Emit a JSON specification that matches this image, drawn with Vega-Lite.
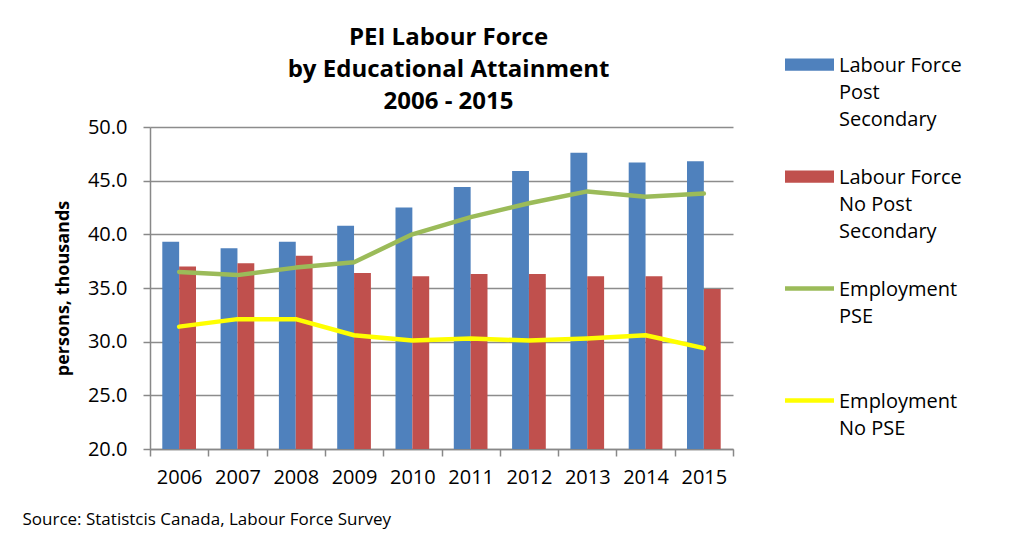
{
  "$schema": "https://vega.github.io/schema/vega-lite/v6.json",
  "width": 583,
  "height": 322,
  "autosize": {"type": "none"},
  "padding": {"left": 150, "top": 127, "right": 276, "bottom": 85},
  "background": "white",
  "config": {
    "font": "Open Sans",
    "view": {"stroke": null}
  },
  "title": {
    "text": ["PEI Labour Force", "by Educational Attainment", "2006 - 2015"],
    "anchor": "middle",
    "frame": "group",
    "font": "Open Sans",
    "fontSize": 24,
    "fontWeight": "bold",
    "color": "black",
    "lineHeight": 32,
    "offset": -74,
    "dx": 7
  },
  "data": {
    "values": [
      {"year": "2006", "series": "Labour Force Post Secondary", "value": 39.3},
      {"year": "2007", "series": "Labour Force Post Secondary", "value": 38.7},
      {"year": "2008", "series": "Labour Force Post Secondary", "value": 39.3},
      {"year": "2009", "series": "Labour Force Post Secondary", "value": 40.8},
      {"year": "2010", "series": "Labour Force Post Secondary", "value": 42.5},
      {"year": "2011", "series": "Labour Force Post Secondary", "value": 44.4},
      {"year": "2012", "series": "Labour Force Post Secondary", "value": 45.9},
      {"year": "2013", "series": "Labour Force Post Secondary", "value": 47.6},
      {"year": "2014", "series": "Labour Force Post Secondary", "value": 46.7},
      {"year": "2015", "series": "Labour Force Post Secondary", "value": 46.8},
      {"year": "2006", "series": "Labour Force No Post Secondary", "value": 37.0},
      {"year": "2007", "series": "Labour Force No Post Secondary", "value": 37.3},
      {"year": "2008", "series": "Labour Force No Post Secondary", "value": 38.0},
      {"year": "2009", "series": "Labour Force No Post Secondary", "value": 36.4},
      {"year": "2010", "series": "Labour Force No Post Secondary", "value": 36.1},
      {"year": "2011", "series": "Labour Force No Post Secondary", "value": 36.3},
      {"year": "2012", "series": "Labour Force No Post Secondary", "value": 36.3},
      {"year": "2013", "series": "Labour Force No Post Secondary", "value": 36.1},
      {"year": "2014", "series": "Labour Force No Post Secondary", "value": 36.1},
      {"year": "2015", "series": "Labour Force No Post Secondary", "value": 34.9},
      {"year": "2006", "series": "Employment PSE", "value": 36.5},
      {"year": "2007", "series": "Employment PSE", "value": 36.2},
      {"year": "2008", "series": "Employment PSE", "value": 36.9},
      {"year": "2009", "series": "Employment PSE", "value": 37.4},
      {"year": "2010", "series": "Employment PSE", "value": 40.0},
      {"year": "2011", "series": "Employment PSE", "value": 41.6},
      {"year": "2012", "series": "Employment PSE", "value": 42.9},
      {"year": "2013", "series": "Employment PSE", "value": 44.0},
      {"year": "2014", "series": "Employment PSE", "value": 43.5},
      {"year": "2015", "series": "Employment PSE", "value": 43.8},
      {"year": "2006", "series": "Employment No PSE", "value": 31.4},
      {"year": "2007", "series": "Employment No PSE", "value": 32.1},
      {"year": "2008", "series": "Employment No PSE", "value": 32.1},
      {"year": "2009", "series": "Employment No PSE", "value": 30.6},
      {"year": "2010", "series": "Employment No PSE", "value": 30.1},
      {"year": "2011", "series": "Employment No PSE", "value": 30.3},
      {"year": "2012", "series": "Employment No PSE", "value": 30.1},
      {"year": "2013", "series": "Employment No PSE", "value": 30.3},
      {"year": "2014", "series": "Employment No PSE", "value": 30.6},
      {"year": "2015", "series": "Employment No PSE", "value": 29.4}
    ]
  },
  "encoding": {
    "x": {
      "field": "year",
      "type": "ordinal",
      "scale": {"paddingInner": 0, "paddingOuter": 0},
      "axis": {
        "labelAngle": 0,
        "tickBand": "extent",
        "tickSize": 7,
        "tickColor": "#888888",
        "tickWidth": 1.5,
        "domainColor": "#888888",
        "domainWidth": 1.5,
        "labelFont": "Open Sans",
        "labelFontSize": 20,
        "labelColor": "black",
        "labelPadding": 11,
        "title": "Source: Statistcis Canada, Labour Force Survey",
        "titleFont": "Open Sans",
        "titleFontSize": 17,
        "titleFontWeight": "normal",
        "titleColor": "black",
        "titleAnchor": "start",
        "titleAlign": "left",
        "titleBaseline": "middle",
        "titleX": -128,
        "titleY": 70
      }
    },
    "y": {
      "field": "value",
      "type": "quantitative",
      "scale": {"domain": [20, 50], "nice": false, "zero": false},
      "axis": {
        "values": [20, 25, 30, 35, 40, 45, 50],
        "format": ".1f",
        "grid": true,
        "gridColor": "#8c8c8c",
        "gridWidth": 1.5,
        "domainColor": "#888888",
        "domainWidth": 1.5,
        "tickColor": "#888888",
        "tickWidth": 1.5,
        "tickSize": 7,
        "labelFont": "Open Sans",
        "labelFontSize": 20,
        "labelColor": "black",
        "labelPadding": 16,
        "title": "persons, thousands",
        "titleFont": "Open Sans",
        "titleFontSize": 18,
        "titleFontWeight": "bold",
        "titleColor": "black",
        "titlePadding": 15
      }
    }
  },
  "layer": [
    {
      "transform": [{"filter": "indexof(['Employment PSE', 'Employment No PSE'], datum.series) < 0"}],
      "mark": {"type": "bar", "clip": true},
      "encoding": {
        "xOffset": {
          "field": "series",
          "type": "nominal",
          "sort": ["Labour Force Post Secondary", "Labour Force No Post Secondary"],
          "scale": {"paddingInner": 0, "paddingOuter": 0.73}
        },
        "color": {
          "field": "series",
          "type": "nominal",
          "scale": {
            "domain": ["Labour Force Post Secondary", "Labour Force No Post Secondary", "Employment PSE", "Employment No PSE"],
            "range": ["#4F81BD", "#C0504D", "#9BBB59", "#FFFF00"]
          },
          "legend": {
            "title": null,
            "orient": "none",
            "legendX": 635,
            "legendY": -87,
            "padding": 0,
            "direction": "vertical",
            "gridAlign": "all",
            "rowPadding": 22,
            "symbolSize": 2401,
            "labelOffset": 5,
            "labelFont": "Open Sans",
            "labelFontSize": 20,
            "labelColor": "black",
            "labelBaseline": "top",
            "labelLimit": 300,
            "labelExpr": "datum.label == 'Labour Force Post Secondary' ? ['Labour Force', 'Post', 'Secondary'] : datum.label == 'Labour Force No Post Secondary' ? ['Labour Force', 'No Post', 'Secondary'] : datum.label == 'Employment PSE' ? ['Employment', 'PSE'] : ['Employment', 'No PSE']",
            "encode": {
              "symbols": {
                "update": {
                  "shape": {"signal": "indexof(['Employment PSE', 'Employment No PSE'], datum.value) >= 0 ? 'M-1,-0.09H1V0.09H-1Z' : 'M-1,-0.25H1V0.25H-1Z'"},
                  "size": {"value": 2401},
                  "fill": {"signal": "scale('color', datum.value)"},
                  "stroke": {"value": "transparent"},
                  "strokeWidth": {"value": 0},
                  "opacity": {"value": 1},
                  "fillOpacity": {"value": 1}
                }
              },
              "labels": {
                "update": {
                  "lineHeight": {"value": 27},
                  "dy": {"value": -9}
                }
              }
            }
          }
        }
      }
    },
    {
      "transform": [{"filter": "indexof(['Employment PSE', 'Employment No PSE'], datum.series) >= 0"}],
      "mark": {"type": "line", "strokeWidth": 4.5, "strokeCap": "round", "strokeJoin": "round", "clip": true},
      "encoding": {
        "color": {"field": "series", "type": "nominal"}
      }
    }
  ]
}
